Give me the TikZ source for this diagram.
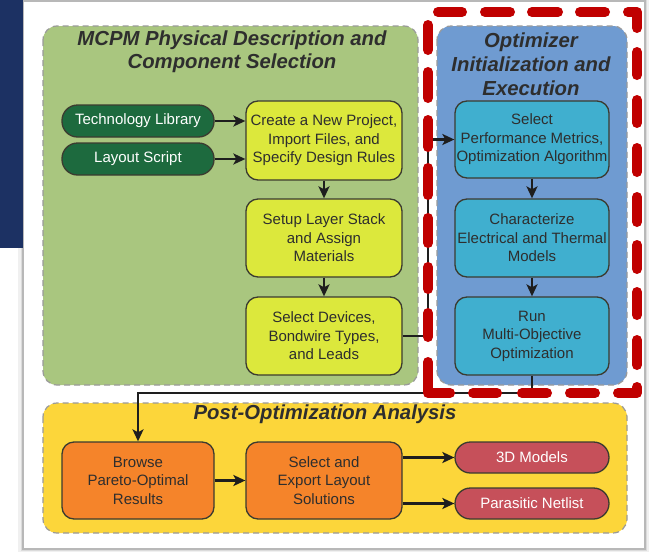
\documentclass[tikz,border=0pt]{standalone}
\usepackage{fontspec}
\setmainfont{Liberation Sans}
\usetikzlibrary{arrows.meta}
\definecolor{navy}{HTML}{1C3163}
\definecolor{greenbg}{HTML}{A9C67F}
\definecolor{bluebg}{HTML}{6F9BD1}
\definecolor{yellowbg}{HTML}{FCD63A}
\definecolor{darkgreen}{HTML}{1D6A3E}
\definecolor{limebox}{HTML}{DCE83C}
\definecolor{cyanbox}{HTML}{40AFCF}
\definecolor{orangebox}{HTML}{F5842A}
\definecolor{redpill}{HTML}{C6505A}
\definecolor{reddash}{HTML}{C00000}
\definecolor{boxline}{HTML}{3B3B30}
\definecolor{regionline}{HTML}{9A9A9A}
\definecolor{textdark}{HTML}{2E2E2E}
\definecolor{arrowc}{HTML}{1E1E1E}
\tikzset{
  region/.style={draw=regionline, line width=1.2pt, dash pattern=on 6pt off 4pt, rounded corners=14pt},
  flowbox/.style={draw=boxline, line width=1.3pt, rounded corners=12pt, text=textdark, align=center,
    inner sep=0pt, font=\fontsize{15}{18.5}\selectfont},
  limeb/.style={flowbox, fill=limebox, minimum width=156pt, minimum height=78pt},
  cyanb/.style={flowbox, fill=cyanbox, minimum width=154pt, minimum height=78pt},
  orangeb/.style={flowbox, fill=orangebox, minimum width=154pt, minimum height=77pt},
  pillg/.style={flowbox, fill=darkgreen, text=white, rounded corners=15.5pt, minimum width=152pt, minimum height=32pt},
  pillr/.style={flowbox, fill=redpill, text=white, rounded corners=15.5pt, minimum width=154pt, minimum height=31pt},
  sectitle/.style={text=textdark, align=center, inner sep=0pt, font=\fontsize{20.3}{23.5}\selectfont\bfseries\itshape},
  conn/.style={draw=arrowc, line width=2.5pt, -{Stealth[length=12pt,width=11pt,inset=3pt]}},
  hilite/.style={draw=reddash, line width=10pt, line cap=round, line join=round}
}
\begin{document}
\begin{tikzpicture}[x=1pt,y=-1pt]
\useasboundingbox (0,0) rectangle (657,552);
\fill[white] (0,0) rectangle (657,552);
% panel with shadow
\fill[black!6] (18,0) rectangle (649,552);
\fill[black!14] (20.5,0) rectangle (647,550.5);
\fill[black!28] (22,0) rectangle (645.5,549.5);
\fill[white] (23.5,2) rectangle (644,548);
\fill[navy] (0,0) rectangle (23,248);

% regions
\draw[region, fill=greenbg] (43,26) rectangle (418,385);
\draw[region, fill=bluebg] (437,26) rectangle (627,385);
\draw[region, fill=yellowbg] (43,403) rectangle (627,533);

% titles
\node[sectitle] (t1) at (232,51.5) {MCPM Physical Description and\\Component Selection};
\node[sectitle, font=\fontsize{20.3}{24}\selectfont\bfseries\itshape] (t2) at (531,64) {Optimizer\\Initialization and\\Execution};
\node[sectitle] (t3) at (325,414) {Post-Optimization Analysis};

% nodes
\node[pillg] (tech) at (138,121) {Technology Library};
\node[pillg] (lay) at (138,159) {Layout Script};
\node[limeb, minimum height=79pt] (create) at (324,140.5) {Create a New Project,\\Import Files, and\\Specify Design Rules};
\node[limeb] (setup) at (324,238) {Setup Layer Stack\\and Assign\\Materials};
\node[limeb] (dev) at (324,336) {Select Devices,\\Bondwire Types,\\and Leads};
\node[cyanb, minimum height=77pt] (perf) at (532,139.5) {Select\\Performance Metrics,\\Optimization Algorithm};
\node[cyanb] (char) at (532,238) {Characterize\\Electrical and Thermal\\Models};
\node[cyanb] (run) at (532,336) {Run\\Multi-Objective\\Optimization};
\node[orangeb, minimum width=152pt] (browse) at (138,480.5) {Browse\\Pareto-Optimal\\Results};
\node[orangeb, minimum width=156pt] (export) at (324,480.5) {Select and\\Export Layout\\Solutions};
\node[pillr] (models) at (532,457.5) {3D Models};
\node[pillr] (net) at (532,503.5) {Parasitic Netlist};

% connectors
\coordinate (jx) at (428,336);
\coordinate (jy) at (532,393);
\draw[conn] (tech.east) -- (create.west |- tech.east);
\draw[conn] (lay.east) -- (create.west |- lay.east);
\draw[conn] (create) -- (setup);
\draw[conn] (setup) -- (dev);
\draw[conn] (dev.east) -- (jx) |- (perf.west);
\draw[conn] (perf) -- (char);
\draw[conn] (char) -- (run);
\draw[conn] (run.south) -- (jy) -| (browse.north);
\draw[conn] (browse) -- (export);
\draw[conn] (export.east |- models.west) -- (models.west);
\draw[conn] (export.east |- net.west) -- (net.west);

% red dashed highlight (dashes drawn one by one)
\foreach \a/\b in {438/462, 485/510, 532/558, 580/605}
  \draw[hilite] (\a,12) -- (\b,12);
\draw[hilite] (628,12) -- (637,12) -- (637,28);
\foreach \a/\b in {52/75, 100/123, 148/172, 197/222, 245/269, 292/315, 340/365}
  \draw[hilite] (637,\a) -- (637,\b);
\draw[hilite] (637,387) -- (637,393) -- (618,393);
\foreach \a/\b in {595/570, 547/522, 497/473}
  \draw[hilite] (\a,393) -- (\b,393);
\draw[hilite] (450,393) -- (428,393) -- (428,362);
\foreach \a/\b in {337/313, 289/267, 243/218, 195/168, 147/120, 98/72, 50/25}
  \draw[hilite] (428,\a) -- (428,\b);
\end{tikzpicture}
\end{document}
